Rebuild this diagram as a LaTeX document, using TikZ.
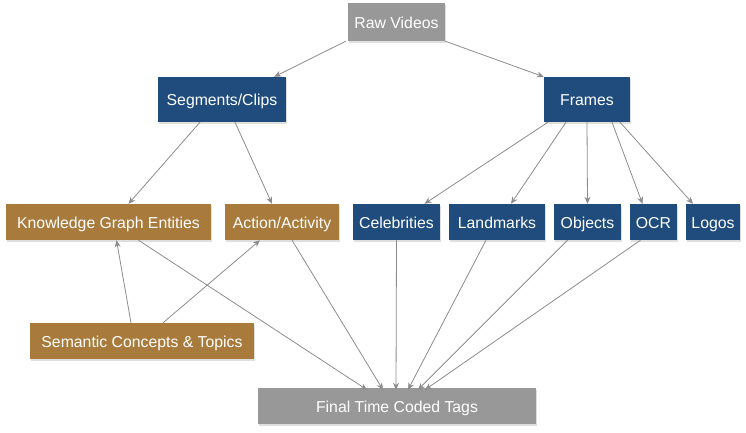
\documentclass[tikz,border=0pt]{standalone}
\usepackage{fontspec}
\setmainfont{Liberation Sans}
\usetikzlibrary{arrows.meta,shadows}
\definecolor{boxgrey}{RGB}{152,152,152}
\definecolor{boxblue}{RGB}{31,76,124}
\definecolor{boxtan}{RGB}{168,123,60}
\definecolor{linegrey}{RGB}{140,140,140}
\begin{document}
\begin{tikzpicture}[x=1pt,y=-1pt,
  every node/.style={text=white,font=\fontsize{15.8}{19}\selectfont,inner sep=0pt,minimum height=36pt,
    text height=12pt,text depth=0pt,
    drop shadow={opacity=0.25,shadow xshift=1pt,shadow yshift=-2pt}},
  greybox/.style={fill=boxgrey},
  bluebox/.style={fill=boxblue},
  tanbox/.style={fill=boxtan},
  flow/.style={draw=linegrey,line width=0.8pt,-{Stealth[length=7pt,width=6pt]}}]
\useasboundingbox (0,0) rectangle (746,432);
\node[greybox,minimum width=97pt,minimum height=38pt] (raw) at (396.5,22) {Raw Videos};
\node[bluebox,minimum width=128pt,minimum height=45pt] (seg) at (222,99.5) {Segments/Clips};
\node[bluebox,minimum width=86pt,minimum height=45pt] (frm) at (587,99.5) {Frames};
\node[tanbox,minimum width=205pt] (kge) at (108.5,222) {Knowledge Graph Entities};
\node[tanbox,minimum width=114pt] (act) at (282,222) {Action/Activity};
\node[bluebox,minimum width=87pt] (cel) at (396.5,222) {Celebrities};
\node[bluebox,minimum width=96pt] (lmk) at (497,222) {Landmarks};
\node[bluebox,minimum width=67pt] (obj) at (587.5,222) {Objects};
\node[bluebox,minimum width=47pt] (ocr) at (653.5,222) {OCR};
\node[bluebox,minimum width=54pt] (logo) at (713,222) {Logos};
\node[tanbox,minimum width=224pt] (sem) at (142,341) {Semantic Concepts \& Topics};
\node[greybox,minimum width=278pt] (fin) at (397,406) {Final Time Coded Tags};
% raw videos split
\draw[flow] ([xshift=-2pt]raw.south west) -- ([xshift=-12pt]seg.north east);
\draw[flow] (raw.south east) -- (frm.north west);
% clips
\draw[flow] ([xshift=-22pt]seg.south) -- ([xshift=20pt]kge.north);
\draw[flow] ([xshift=13pt]seg.south) -- ([xshift=-10pt]act.north);
% frames
\draw[flow] ([xshift=-39pt]frm.south) -- ([xshift=28pt]cel.north);
\draw[flow] ([xshift=-21pt]frm.south) -- ([xshift=14pt]lmk.north);
\draw[flow] (frm.south) -- (obj.north);
\draw[flow] ([xshift=25pt]frm.south) -- ([xshift=-11pt]ocr.north);
\draw[flow] ([xshift=33pt]frm.south) -- ([xshift=-20pt]logo.north);
% semantic concepts
\draw[flow] ([xshift=-11pt]sem.north) -- ([xshift=8pt]kge.south);
\draw[flow] ([xshift=21pt]sem.north) -- ([xshift=-22pt]act.south);
% into final tags
\draw[flow] ([xshift=30pt]kge.south) -- ([xshift=-30pt,yshift=-2pt]fin.north);
\draw[flow] ([xshift=10pt]act.south) -- ([xshift=-14pt,yshift=-2pt]fin.north);
\draw[flow] (cel.south) -- ([xshift=-1pt,yshift=-2pt]fin.north);
\draw[flow] ([xshift=-11pt]lmk.south) -- ([xshift=11pt,yshift=-2pt]fin.north);
\draw[flow] ([xshift=-20pt]obj.south) -- ([xshift=21pt,yshift=-2pt]fin.north);
\draw[flow] ([xshift=-13pt]ocr.south) -- ([xshift=28pt,yshift=-2pt]fin.north);
\end{tikzpicture}
\end{document}
